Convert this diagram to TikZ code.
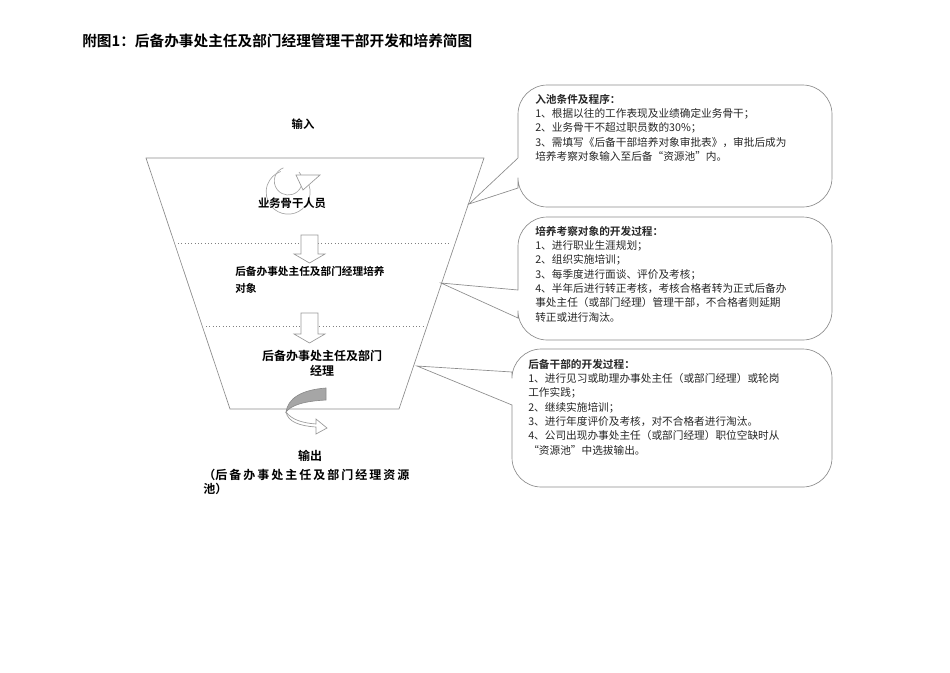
\documentclass[tikz,border=0pt]{standalone}
\usepackage{fontspec}
\setmainfont{Noto Sans CJK SC}
\newfontfamily\cjkb{Noto Sans CJK SC Bold}
\begin{document}
\begin{tikzpicture}[x=0.75pt,y=-0.75pt,
  lnc/.style={draw=black!45,line width=0.5pt},
  dotl/.style={draw=black!50,dotted,line width=0.5pt},
  txt/.style={font=\fontsize{8pt}{10.7pt}\selectfont,align=left,anchor=north west,inner sep=0pt,text=black!85},
  lbl/.style={font=\cjkb\fontsize{8.5pt}{11pt}\selectfont,inner sep=0pt,align=center},
  blk/.style={draw=black!40,fill=white,line width=0.5pt}]
\useasboundingbox (0,0) rectangle (950,672);
\node[anchor=west,inner sep=0pt,font=\cjkb\fontsize{11pt}{13pt}\selectfont] (title) at (82,41) {附图1：后备办事处主任及部门经理管理干部开发和培养简图};
% funnel
\draw[lnc] (146,158) -- (484,158) -- (399,409) -- (230,409) -- cycle;
\draw[dotl] (178,243) -- (449,243);
\draw[dotl] (206,326) -- (423,326);
% loop arrow
\draw[black!35,line width=0.5pt] (305,178) arc (-40:250:22) ;
\draw[black!35,line width=0.5pt] (299,172) arc (-40:250:14);
\draw[blk] (296,175) -- (320,175) -- (303,190) -- cycle;
% down arrows
\draw[blk] (301,235) -- (318,235) -- (318,254) -- (325,254) -- (309.5,263) -- (294,254) -- (301,254) -- cycle;
\draw[blk] (301,313) -- (318,313) -- (318,334) -- (325,334) -- (309.5,343) -- (294,334) -- (301,334) -- cycle;
% bottom curved arrow
\fill[black!35] (326,388) -- (326,400) .. controls (305,401) and (291,405) .. (286,412) .. controls (288,399) and (300,390) .. (326,388) -- cycle;
\draw[black!45,line width=0.5pt] (326,388) -- (326,400) .. controls (305,401) and (291,405) .. (286,412) .. controls (288,399) and (300,390) .. (326,388) -- cycle;
\draw[blk] (286,412) .. controls (288,422) and (300,426) .. (316,427) -- (316,434) -- (327,428) -- (316,419) -- (316,424) .. controls (303,423) and (292,420) .. (286,412);
% labels
\node[lbl] (in) at (303,124) {输入};
\node[lbl] (l1) at (292,203) {业务骨干人员};
\node[lbl,font=\cjkb\fontsize{8pt}{13pt}\selectfont,align=left,anchor=west] (l2) at (235,280) {后备办事处主任及部门经理培养\\对象};
\node[lbl,font=\cjkb\fontsize{9pt}{11.5pt}\selectfont] (l3) at (322,363) {后备办事处主任及部门\\经理};
\node[lbl,font=\cjkb\fontsize{9pt}{11pt}\selectfont] (out) at (310,456) {输出};
\node[lbl,font=\cjkb\fontsize{9pt}{11pt}\selectfont,anchor=west,align=left] (out2) at (203,482) {（后\,备\,办\,事\,处\,主\,任\,及\,部\,门\,经\,理\,资\,源\\池）};
% callout 1
\draw[lnc] (469,204) -- (518,188) [rounded corners=22] -- (518,207) -- (832,207) -- (832,85) -- (518,85) [sharp corners] -- (518,158) -- cycle;
\node[txt] (t1) at (535,94) {{\cjkb 入池条件及程序：}\\1、根据以往的工作表现及业绩确定业务骨干；\\2、业务骨干不超过职员数的30\%；\\3、需填写《后备干部培养对象审批表》，审批后成为\\培养考察对象输入至后备“资源池”内。};
% callout 2
\draw[lnc] (441,283) -- (518,318) [rounded corners=22] -- (518,340) -- (832,340) -- (832,217) -- (518,217) [sharp corners] -- (518,290) -- cycle;
\node[txt] (t2) at (535,226) {{\cjkb 培养考察对象的开发过程：}\\1、进行职业生涯规划；\\2、组织实施培训；\\3、每季度进行面谈、评价及考核；\\4、半年后进行转正考核，考核合格者转为正式后备办\\事处主任（或部门经理）管理干部，不合格者则延期\\转正或进行淘汰。};
% callout 3
\draw[lnc] (417,366) -- (512,405) [rounded corners=22] -- (512,487) -- (832,487) -- (832,349) -- (512,349) [sharp corners] -- (512,372) -- cycle;
\node[txt] (t3) at (528,359) {{\cjkb 后备干部的开发过程：}\\1、进行见习或助理办事处主任（或部门经理）或轮岗\\工作实践；\\2、继续实施培训；\\3、进行年度评价及考核，对不合格者进行淘汰。\\4、公司出现办事处主任（或部门经理）职位空缺时从\\“资源池”中选拔输出。};
\end{tikzpicture}
\end{document}
